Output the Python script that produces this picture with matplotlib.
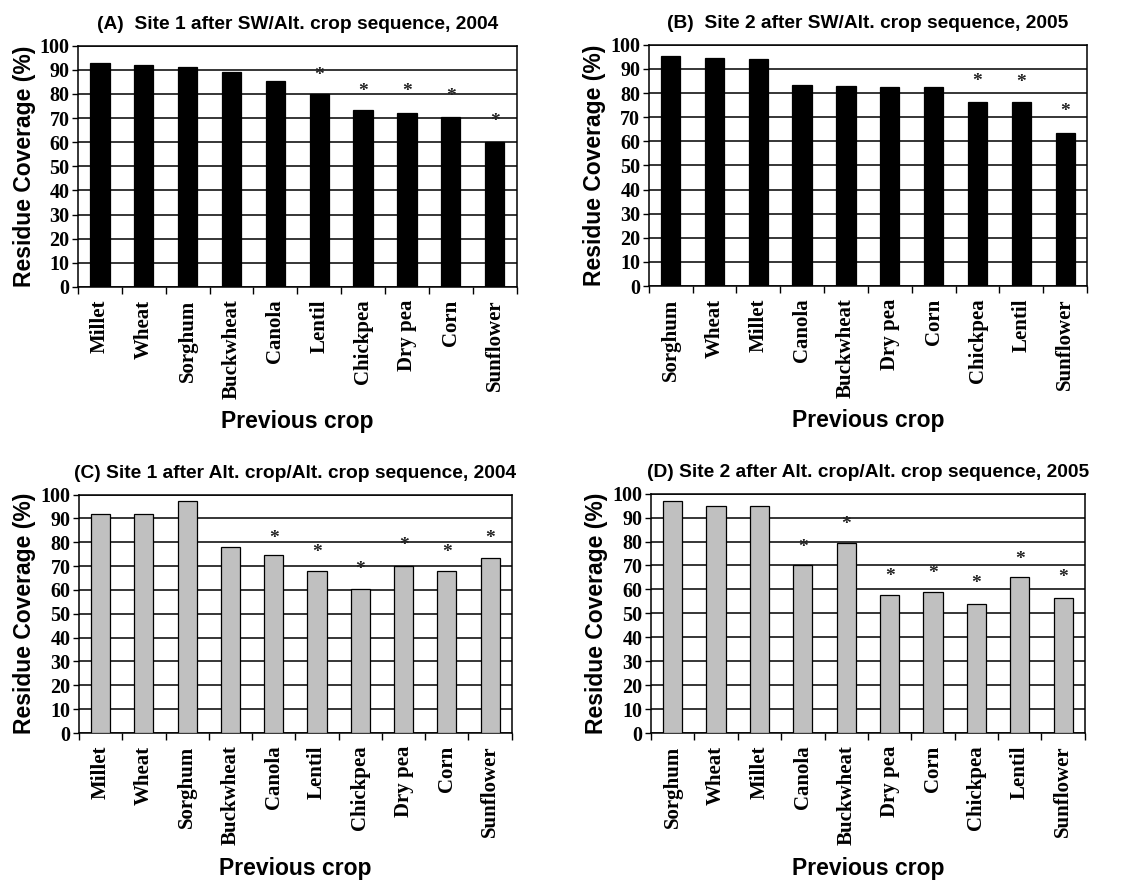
import numpy as np
import matplotlib.pyplot as plt

# Panel data
crops_a = ['Millet', 'Wheat', 'Sorghum', 'Buckwheat', 'Canola', 'Lentil',
           'Chickpea', 'Dry pea', 'Corn', 'Sunflower']
vals_a = [93, 92, 91, 89, 85.5, 80, 73.5, 72, 70.5, 60]
stars_a = [None, None, None, None, None, 89, 82.5, 82.5, 80.5, 70]

crops_b = ['Sorghum', 'Wheat', 'Millet', 'Canola', 'Buckwheat', 'Dry pea',
           'Corn', 'Chickpea', 'Lentil', 'Sunflower']
vals_b = [95.5, 94.5, 94, 83.5, 83, 82.5, 82.5, 76.5, 76.5, 63.5]
stars_b = [None, None, None, None, None, None, None, 86.5, 86, 74]

crops_c = ['Millet', 'Wheat', 'Sorghum', 'Buckwheat', 'Canola', 'Lentil',
           'Chickpea', 'Dry pea', 'Corn', 'Sunflower']
vals_c = [92, 92, 97.5, 78, 74.5, 68, 60.5, 70, 68, 73.5]
stars_c = [None, None, None, None, 83, 77, 70, 80, 77, 83]

crops_d = ['Sorghum', 'Wheat', 'Millet', 'Canola', 'Buckwheat', 'Dry pea',
           'Corn', 'Chickpea', 'Lentil', 'Sunflower']
vals_d = [97, 95, 95, 70, 79.5, 57.5, 59, 54, 65, 56.5]
stars_d = [None, None, None, 79, 88.5, 67, 68, 64, 74, 66.5]

titles = ['(A)  Site 1 after SW/Alt. crop sequence, 2004',
          '(B)  Site 2 after SW/Alt. crop sequence, 2005',
          '(C) Site 1 after Alt. crop/Alt. crop sequence, 2004',
          '(D) Site 2 after Alt. crop/Alt. crop sequence, 2005']

SANS = 'Liberation Sans'
SERIF = 'Liberation Serif'


def draw_panel(ax, crops, vals, stars, color, title):
    x = np.arange(len(crops))
    ax.set_axisbelow(True)
    ax.yaxis.grid(True, color='black', linewidth=1.1)
    ax.bar(x, vals, width=0.44, color=color, edgecolor='black', linewidth=0.9, zorder=3)
    for xi, s in zip(x, stars):
        if s is not None:
            ax.text(xi, s - 1.5, '*', ha='center', va='center', fontsize=14,
                    family=SERIF, fontweight='bold', color='#222222', zorder=4)
    ax.set_xlim(-0.5, len(crops) - 0.5)
    ax.set_ylim(0, 100)
    ax.set_yticks(np.arange(0, 101, 10))
    ax.set_xticks(x)
    ax.set_xticklabels(crops, rotation=90, family=SERIF, fontweight='bold', fontsize=15)
    ax.set_xticks(np.arange(-0.5, len(crops), 1), minor=True)
    ax.tick_params(axis='x', which='major', length=0, pad=9)
    ax.tick_params(axis='x', which='minor', length=5, width=1, direction='out')
    ax.tick_params(axis='y', length=4, width=1, direction='out', pad=2)
    for lab in ax.get_yticklabels():
        lab.set_family(SERIF)
        lab.set_fontweight('bold')
        lab.set_fontsize(14.5)
    for sp in ax.spines.values():
        sp.set_linewidth(1.1)
    ax.set_ylabel('Residue Coverage (%)', family=SANS, fontweight='bold', fontsize=16.5, labelpad=3)
    ax.set_xlabel('Previous crop', family=SANS, fontweight='bold', fontsize=16.5, labelpad=8)
    ax.set_title(title, family=SANS, fontweight='bold', fontsize=13.8, pad=12)


fig = plt.figure(figsize=(11.36, 8.8), dpi=100)
ax_a = fig.add_axes([0.0687, 0.674, 0.386, 0.274])
ax_b = fig.add_axes([0.571, 0.675, 0.386, 0.274])
ax_c = fig.add_axes([0.0695, 0.167, 0.381, 0.271])
ax_d = fig.add_axes([0.573, 0.167, 0.382, 0.272])

draw_panel(ax_a, crops_a, vals_a, stars_a, 'black', titles[0])
draw_panel(ax_b, crops_b, vals_b, stars_b, 'black', titles[1])
draw_panel(ax_c, crops_c, vals_c, stars_c, '#c0c0c0', titles[2])
draw_panel(ax_d, crops_d, vals_d, stars_d, '#c0c0c0', titles[3])

fig.savefig('out.png', dpi=100)
